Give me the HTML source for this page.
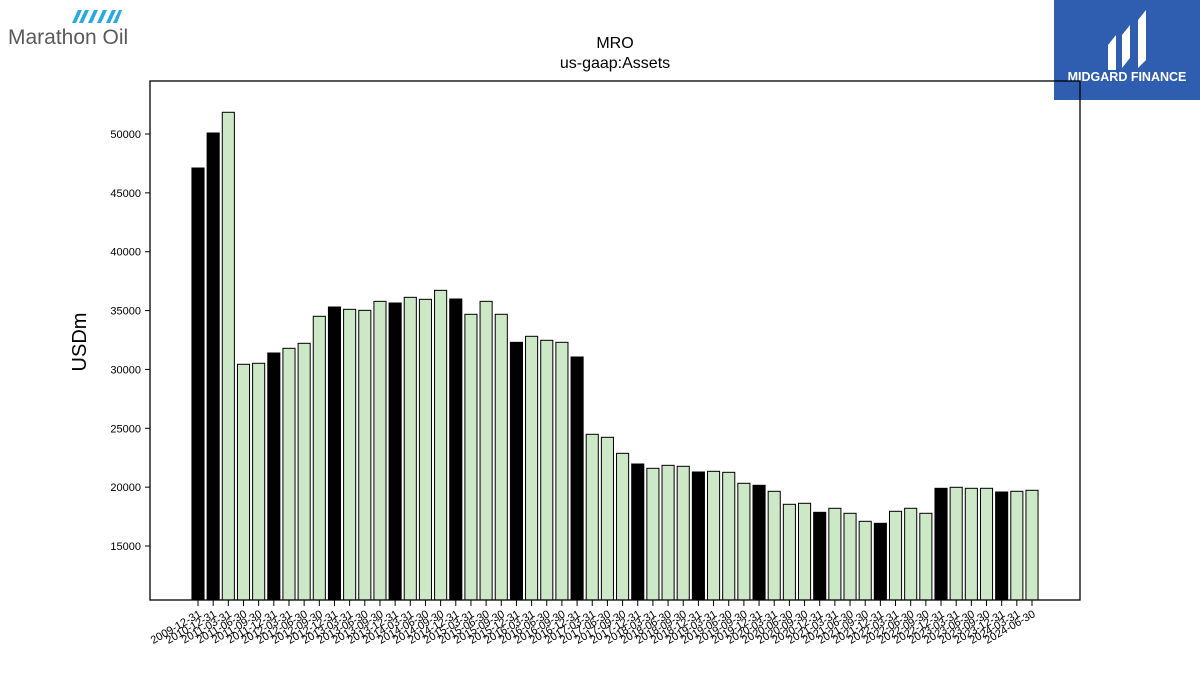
<!DOCTYPE html>
<html><head><meta charset="utf-8"><style>
body{margin:0;background:#fff;width:1200px;height:675px;overflow:hidden;font-family:"Liberation Sans","DejaVu Sans",sans-serif;}
svg{display:block}
</style></head><body>
<svg id="chart" width="1200" height="675" xmlns="http://www.w3.org/2000/svg">
  <g>
    <g fill="#29a9e1">
      <path d="M72 23 L78 10 L82 10 L76 23Z"/><path d="M79 23 L85 10 L89 10 L83 23Z"/>
      <path d="M88 23 L94 10 L98 10 L92 23Z"/><path d="M97 23 L103 10 L107 10 L101 23Z"/>
      <path d="M106 23 L112 10 L116 10 L110 23Z"/><path d="M113 23 L119 10 L122 10 L117 23Z"/>
    </g>
    <text x="8" y="44" font-size="21" fill="#5a5a5a">Marathon Oil</text>
  </g>
  <g>
    <rect x="1054" y="0" width="146" height="100" fill="#2f5db0"/>
    <path d="M1108 70 L1108 45 L1116 35 L1116 70Z M1122 68 L1122 35 L1130 25 L1130 58Z M1138 68 L1138 20 L1146 10 L1146 60Z" fill="#fff"/>
    <text x="1127" y="81" font-size="12.5" font-weight="bold" fill="#fff" text-anchor="middle">MIDGARD FINANCE</text>
  </g>
  <text x="615" y="48" font-size="16" text-anchor="middle">MRO</text>
  <text x="615" y="68" font-size="16" text-anchor="middle">us-gaap:Assets</text>
  <text transform="translate(86,342) rotate(-90)" font-size="20" text-anchor="middle">USDm</text>
  <g id="bars"></g>
  <g id="yticks"></g>
  <g id="xticks"></g>
  <rect x="150" y="81" width="930" height="519" fill="none" stroke="#000" stroke-width="1.3"/>
</svg>
<script>
const dates = ["2009-12-31","2010-12-31"];
for (let y = 2011; y <= 2024; y++) for (const q of ["03-31","06-30","09-30","12-31"]) { if (y === 2024 && (q === "09-30" || q === "12-31")) continue; dates.push(y + "-" + q); }
const assetValues = [47112,50085,51845,30437,30522,31396,31794,32219,34514,35304,35105,35020,35784,35643,36125,35955,36719,35983,34684,35784,34684,32304,32814,32474,32304,31056,24489,24234,22873,21966,21600,21853,21770,21287,21344,21260,20327,20157,19647,18543,18628,17863,18203,17778,17098,16928,17948,18203,17778,19902,19987,19902,19902,19588,19647,19732];
const yTickValues = [15000,20000,25000,30000,35000,40000,45000,50000];

const NS = "http://www.w3.org/2000/svg";
const yMin = 10413, yMax = 54503, plotTop = 81, plotBottom = 600;
function yScale(v){ return plotBottom - (v - yMin) / (yMax - yMin) * (plotBottom - plotTop); }
const x0 = 198, x1 = 1032;
function xScale(i){ return x0 + i * (x1 - x0) / (dates.length - 1); }
const bw = 12.1;

const barsG = document.getElementById("bars");
assetValues.forEach((v, i) => {
  const r = document.createElementNS(NS, "rect");
  const black = dates[i].endsWith("12-31");
  r.setAttribute("x", xScale(i) - bw / 2);
  r.setAttribute("y", yScale(v));
  r.setAttribute("width", bw);
  r.setAttribute("height", plotBottom - yScale(v));
  r.setAttribute("fill", black ? "#000" : "#cce8c6");
  r.setAttribute("stroke", "#000");
  r.setAttribute("stroke-width", "1");
  
  
  barsG.appendChild(r);
});

const yG = document.getElementById("yticks");
yTickValues.forEach(v => {
  const y = yScale(v);
  const l = document.createElementNS(NS, "line");
  l.setAttribute("x1", 145); l.setAttribute("x2", 150); l.setAttribute("y1", y); l.setAttribute("y2", y);
  l.setAttribute("stroke", "#000");
  
  
  yG.appendChild(l);
  const t = document.createElementNS(NS, "text");
  t.setAttribute("x", 141); t.setAttribute("y", y + 4);
  t.setAttribute("font-size", "11"); t.setAttribute("text-anchor", "end");
  t.textContent = v;
  
  
  yG.appendChild(t);
});

const xG = document.getElementById("xticks");
dates.forEach((d, i) => {
  const x = xScale(i);
  const l = document.createElementNS(NS, "line");
  l.setAttribute("x1", x); l.setAttribute("x2", x); l.setAttribute("y1", 600); l.setAttribute("y2", 606);
  l.setAttribute("stroke", "#000");
  
  
  xG.appendChild(l);
  const t = document.createElementNS(NS, "text");
  t.setAttribute("transform", "translate(" + (x + 4) + ",616) rotate(-30)");
  t.setAttribute("font-size", "11"); t.setAttribute("text-anchor", "end");
  t.textContent = d;
  
  
  xG.appendChild(t);
});
</script>
</body></html>
